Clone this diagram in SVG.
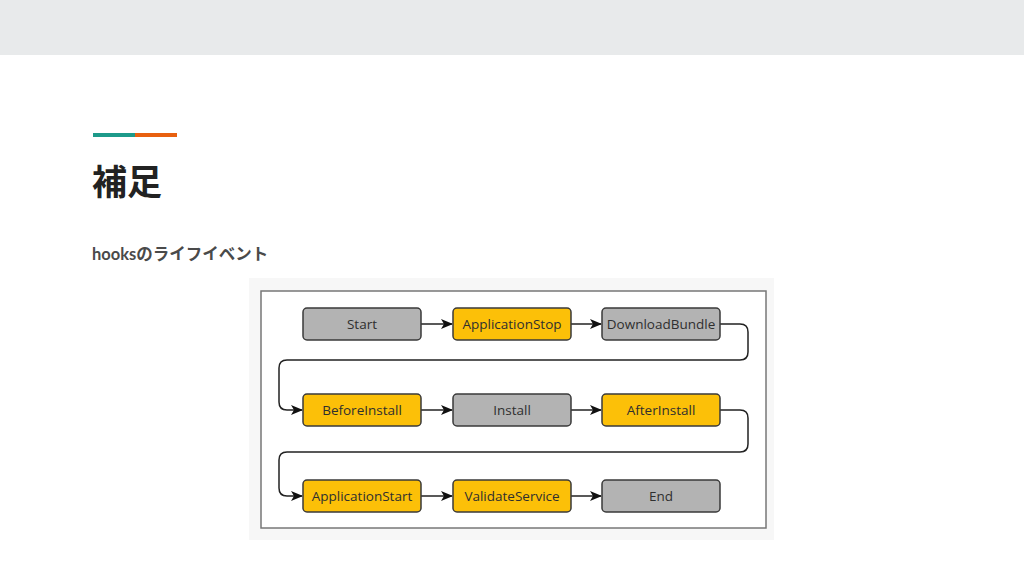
<svg xmlns="http://www.w3.org/2000/svg" width="1024" height="576" viewBox="0 0 1024 576">
<defs>
<style>
.node rect{stroke:#3a3a3a;stroke-width:1.5}
.gray rect{fill:#b3b3b3}
.yel rect{fill:#fcc008}
.node text{font-family:"Open Sans","DejaVu Sans",sans-serif;font-size:13.5px;fill:#2f2f2f;text-anchor:middle}
.conn path{fill:none;stroke:#222;stroke-width:1.5}
</style>
<marker id="ah" viewBox="0 0 12 10" refX="11" refY="5" markerWidth="12" markerHeight="10" markerUnits="userSpaceOnUse" orient="auto">
<path d="M0,0 L12,5 L0,10 L3,5 Z" fill="#111"/>
</marker>
</defs>
<rect width="1024" height="576" fill="#ffffff"/>
<rect width="1024" height="55" fill="#e8eaeb"/>
<rect x="93" y="133" width="42" height="4" fill="#1d9a8a"/>
<rect x="135" y="133" width="42" height="4" fill="#e8600f"/>
<text x="92" y="195" font-family="'Noto Sans CJK JP',sans-serif" font-weight="700" font-size="35" fill="#222">補足</text>
<text x="92" y="260" font-family="Lato,'Noto Sans CJK JP',sans-serif" font-weight="700" font-size="16.5" fill="#4a4a4a">hooks<tspan font-family="'Noto Sans CJK JP',sans-serif">のライフイベント</tspan></text>
<rect x="249" y="278" width="525" height="262" fill="#f7f7f7"/>
<rect x="261" y="291" width="505" height="237" fill="#ffffff" stroke="#777" stroke-width="1.5"/>
<g id="connectors" class="conn">
<path d="M421,324 H452" marker-end="url(#ah)"/>
<path d="M571,324 H601" marker-end="url(#ah)"/>
<path d="M720,324 H740 Q748,324 748,332 V352 Q748,360 740,360 H287 Q279,360 279,368 V402 Q279,410 287,410 H302" marker-end="url(#ah)"/>
<path d="M421,410 H452" marker-end="url(#ah)"/>
<path d="M571,410 H601" marker-end="url(#ah)"/>
<path d="M720,410 H740 Q748,410 748,418 V444 Q748,452 740,452 H287 Q279,452 279,460 V488 Q279,496 287,496 H302" marker-end="url(#ah)"/>
<path d="M421,496 H452" marker-end="url(#ah)"/>
<path d="M571,496 H601" marker-end="url(#ah)"/>
</g>
<g id="start" class="node gray"><rect x="303" y="308" width="118" height="32" rx="4"/><text x="362" y="329">Start</text></g>
<g id="applicationstop" class="node yel"><rect x="453" y="308" width="118" height="32" rx="4"/><text x="512" y="329">ApplicationStop</text></g>
<g id="downloadbundle" class="node gray"><rect x="602" y="308" width="118" height="32" rx="4"/><text x="661" y="329">DownloadBundle</text></g>
<g id="beforeinstall" class="node yel"><rect x="303" y="394" width="118" height="32" rx="4"/><text x="362" y="415">BeforeInstall</text></g>
<g id="install" class="node gray"><rect x="453" y="394" width="118" height="32" rx="4"/><text x="512" y="415">Install</text></g>
<g id="afterinstall" class="node yel"><rect x="602" y="394" width="118" height="32" rx="4"/><text x="661" y="415">AfterInstall</text></g>
<g id="applicationstart" class="node yel"><rect x="303" y="480" width="118" height="32" rx="4"/><text x="362" y="501">ApplicationStart</text></g>
<g id="validateservice" class="node yel"><rect x="453" y="480" width="118" height="32" rx="4"/><text x="512" y="501">ValidateService</text></g>
<g id="end" class="node gray"><rect x="602" y="480" width="118" height="32" rx="4"/><text x="661" y="501">End</text></g>
</svg>
